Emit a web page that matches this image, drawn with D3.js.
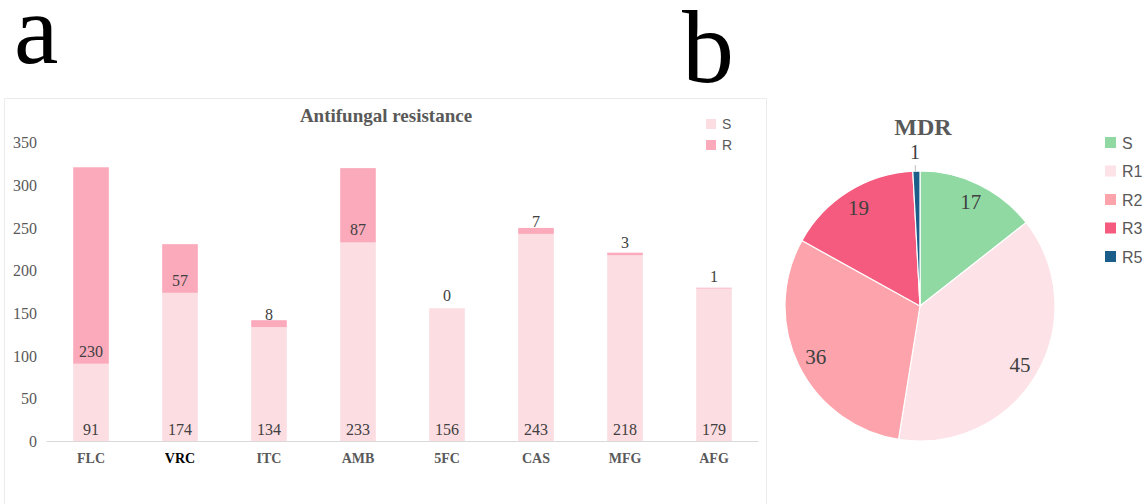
<!DOCTYPE html>
<html>
<head>
<meta charset="utf-8">
<script src="https://cdn.jsdelivr.net/npm/d3@7"></script>
<style>
  html, body { margin: 0; padding: 0; background: #fff; }
  #wrap { position: relative; width: 1146px; height: 504px; overflow: hidden; }
  svg { display: block; position: absolute; left: 0; top: 0; }
  .panel-letter { position: absolute; font-family: 'Liberation Serif', 'Times New Roman', serif; color: #000; white-space: nowrap; }
</style>
</head>
<body>
<div id="wrap">
<svg id="chart" width="1146" height="504"></svg>
</div>
<script>
// ---- Data ----
const categories = ["FLC", "VRC", "ITC", "AMB", "5FC", "CAS", "MFG", "AFG"];
const sValues = [91, 174, 134, 233, 156, 243, 218, 179];
const rValues = [230, 57, 8, 87, 0, 7, 3, 1];
const yTicks = [0, 50, 100, 150, 200, 250, 300, 350];
const barSeries = ["S", "R"];

const pieLabels = ["S", "R1", "R2", "R3", "R5"];
const pieValues = [17, 45, 36, 19, 1];

const panelLetters = ["a", "b"];

// ---- Styles ----
const serif = "'Liberation Serif', 'Times New Roman', serif";
const sans = "'Liberation Sans', Arial, sans-serif";
const barColors = { S: "#fcdde2", R: "#fbaabb" };
const pieColors = ["#90d9a3", "#fde2e7", "#fca3ac", "#f45b7e", "#1b5e8a"];
const labelGrey = "#595959";
const valueGrey = "#404040";

const svg = d3.select("#chart");
const wrap = d3.select("#wrap");

// Panel letters (HTML, compact line box)
wrap.append("div").attr("class", "panel-letter")
  .style("left", "14px").style("top", "0px")
  .style("font-size", "100px").style("line-height", "60px")
  .text(panelLetters[0]);
wrap.append("div").attr("class", "panel-letter")
  .style("left", "682px").style("top", "10px")
  .style("font-size", "104px").style("line-height", "74px")
  .text(panelLetters[1]);

// Panel a frame
svg.append("rect").attr("x", 4.5).attr("y", 98.5).attr("width", 762).attr("height", 410)
  .attr("fill", "#fff").attr("stroke", "#ececec").attr("stroke-width", 1);

// ---- Bar chart ----
const x = d3.scaleBand().domain(categories).range([46.5, 758.5]).paddingInner(0.6).paddingOuter(0.3);
const y = d3.scaleLinear().domain([0, 350]).range([441.5, 142.5]);

const stackData = categories.map((c, i) => ({ cat: c, S: sValues[i], R: rValues[i] }));
const stacked = d3.stack().keys(barSeries)(stackData);

const gBars = svg.append("g");
gBars.selectAll("g.series").data(stacked).join("g")
  .attr("class", "series")
  .attr("fill", d => barColors[d.key])
  .selectAll("rect").data(d => d).join("rect")
  .attr("x", d => x(d.data.cat))
  .attr("width", x.bandwidth())
  .attr("y", d => y(d[1]))
  .attr("height", d => y(d[0]) - y(d[1]));

// Y axis (tick labels only)
const yAxis = d3.axisLeft(y).tickValues(yTicks).tickSize(0).tickPadding(0);
const gy = svg.append("g").attr("transform", "translate(37,0)").call(yAxis);
gy.select(".domain").remove();
gy.selectAll("text").attr("font-family", serif).attr("font-size", 16).attr("fill", labelGrey);

// X axis
const xAxis = d3.axisBottom(x).tickSize(0).tickPadding(12);
const gx = svg.append("g").attr("transform", `translate(0,${y(0)})`).call(xAxis);
gx.select(".domain").attr("stroke", "#d9d9d9").attr("d", "M46.5,0H758.5");
gx.selectAll("text").attr("font-family", serif).attr("font-size", 14).attr("font-weight", "bold")
  .attr("fill", d => d === "VRC" ? "#000" : labelGrey);

// Value labels
const gLab = svg.append("g").attr("font-family", serif).attr("font-size", 16)
  .attr("fill", valueGrey).attr("text-anchor", "middle");
gLab.selectAll("text.s").data(stackData).join("text").attr("class", "s")
  .attr("x", d => x(d.cat) + x.bandwidth() / 2)
  .attr("y", y(0) - 7)
  .text(d => d.S);
gLab.selectAll("text.r").data(stackData).join("text").attr("class", "r")
  .attr("x", d => x(d.cat) + x.bandwidth() / 2)
  .attr("y", d => y(d.S) - 7)
  .text(d => d.R);

// Title
svg.append("text").attr("x", 386).attr("y", 122).attr("text-anchor", "middle")
  .attr("font-family", serif).attr("font-size", 19).attr("font-weight", "bold")
  .attr("fill", labelGrey).text("Antifungal resistance");

// Legend
const leg = svg.append("g").attr("transform", "translate(706,119)");
barSeries.forEach((k, i) => {
  const g = leg.append("g").attr("transform", `translate(0,${i * 21})`);
  g.append("rect").attr("width", 10).attr("height", 10).attr("fill", barColors[k]);
  g.append("text").attr("x", 16).attr("y", 10).attr("font-family", sans).attr("font-size", 14)
    .attr("fill", labelGrey).text(k);
});

// ---- Pie chart ----
const cx = 920, cy = 306, R = 135;
const pie = d3.pie().sort(null).value(d => d)(pieValues);
const arc = d3.arc().innerRadius(0).outerRadius(R);
const labelArc = d3.arc().innerRadius(116).outerRadius(116);
const gPie = svg.append("g").attr("transform", `translate(${cx},${cy})`);
gPie.selectAll("path").data(pie).join("path")
  .attr("d", arc)
  .attr("fill", (d, i) => pieColors[i])
  .attr("stroke", "#fff").attr("stroke-width", 1.2);

gPie.selectAll("text").data(pie).join("text")
  .attr("text-anchor", "middle")
  .attr("font-family", serif).attr("font-size", d => d.value < 3 ? 20 : 21).attr("fill", valueGrey)
  .attr("transform", d => {
    const mid = (d.startAngle + d.endAngle) / 2;
    if (d.value < 3) {
      const rr = 154;
      return `translate(${Math.sin(mid) * rr - 1},${-Math.cos(mid) * rr + 7})`;
    }
    const c = labelArc.centroid(d);
    return `translate(${c[0]},${c[1] + 7})`;
  })
  .text(d => d.value);

// Leader line for small slice
pie.filter(d => d.value < 3).forEach(d => {
  const mid = (d.startAngle + d.endAngle) / 2;
  gPie.append("line")
    .attr("x1", Math.sin(mid) * 141 - 1).attr("y1", -Math.cos(mid) * 141)
    .attr("x2", Math.sin(mid) * R - 1).attr("y2", -Math.cos(mid) * R)
    .attr("stroke", "#bfbfbf").attr("stroke-width", 1);
});

// Pie title
svg.append("text").attr("x", 923).attr("y", 134.5).attr("text-anchor", "middle")
  .attr("font-family", serif).attr("font-size", 24).attr("font-weight", "bold")
  .attr("fill", labelGrey).text("MDR");

// Pie legend
const pleg = svg.append("g").attr("transform", "translate(1105,137)");
pieLabels.forEach((k, i) => {
  const g = pleg.append("g").attr("transform", `translate(0,${i * 28.5})`);
  g.append("rect").attr("width", 11).attr("height", 11).attr("fill", pieColors[i]);
  g.append("text").attr("x", 17).attr("y", 11.5).attr("font-family", sans).attr("font-size", 16)
    .attr("fill", labelGrey).text(k);
});
</script>
</body>
</html>
